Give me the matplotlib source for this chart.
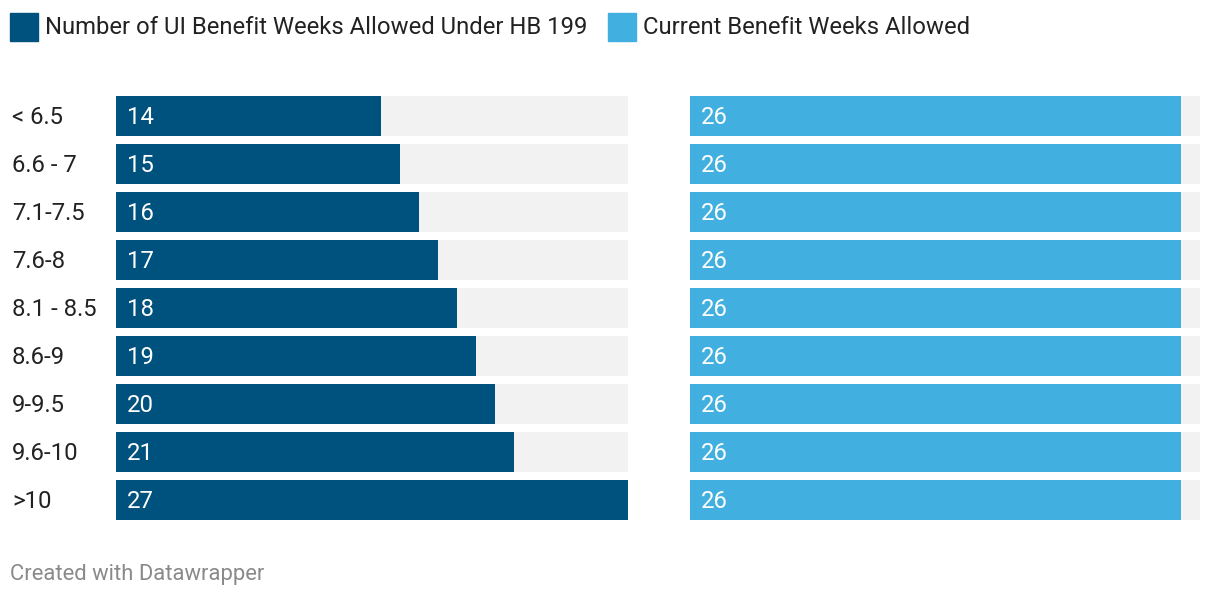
import matplotlib.pyplot as plt
from matplotlib.patches import Rectangle

plt.rcParams['font.family'] = ['Roboto', 'DejaVu Sans']

# 数据
categories = ['< 6.5', '6.6 - 7', '7.1-7.5', '7.6-8', '8.1 - 8.5', '8.6-9', '9-9.5', '9.6-10', '>10']
hb199_weeks = [14, 15, 16, 17, 18, 19, 20, 21, 27]
current_weeks = [26, 26, 26, 26, 26, 26, 26, 26, 26]
series_names = ['Number of UI Benefit Weeks Allowed Under HB 199', 'Current Benefit Weeks Allowed']

dark = '#00527e'
light = '#41b0e0'
grey = '#f2f2f2'
xmax = 27
fs = 17.2

W, H = 1220, 598
fig = plt.figure(figsize=(W / 100, H / 100), dpi=100)


def px_axes(x0, y0, x1, y1):
    # 像素坐标 -> 图形坐标
    return fig.add_axes([x0 / W, (H - y1) / H, (x1 - x0) / W, (y1 - y0) / H])


n = len(categories)
ys = list(range(n))
bar_h = 40 / 48
dy = -1 / 48  # 文字上移一个像素

ax1 = px_axes(116, 92, 628, 524)
ax2 = px_axes(690, 92, 1200, 524)

for ax, vals, col in [(ax1, hb199_weeks, dark), (ax2, current_weeks, light)]:
    ax.barh(ys, [xmax] * n, height=bar_h, color=grey)
    ax.barh(ys, vals, height=bar_h, color=col)
    for y, v in zip(ys, vals):
        ax.text(11 / 512 * xmax, y + dy, str(v), color='white', fontsize=fs, va='center_baseline', ha='left')
    ax.set_xlim(0, xmax)
    ax.set_ylim(n - 0.5, -0.5)
    ax.axis('off')

for y, c in zip(ys, categories):
    ax1.text(-104 / 512 * xmax, y + dy, c, fontsize=fs, color='#222222', va='center_baseline', ha='left')

# 图例
fig.patches.append(Rectangle((10 / W, 1 - 41 / H), 28 / W, 28 / H, transform=fig.transFigure, color=dark))
fig.text(45 / W, 1 - 25 / H, series_names[0], fontsize=fs, color='#222222', va='center_baseline')
fig.patches.append(Rectangle((608 / W, 1 - 41 / H), 28 / W, 28 / H, transform=fig.transFigure, color=light))
fig.text(643 / W, 1 - 25 / H, series_names[1], fontsize=fs, color='#222222', va='center_baseline')

fig.text(10 / W, 1 - 572 / H, 'Created with Datawrapper', fontsize=15.8, color='#8a8a8a', va='center_baseline')

fig.savefig('out.png', dpi=100)
